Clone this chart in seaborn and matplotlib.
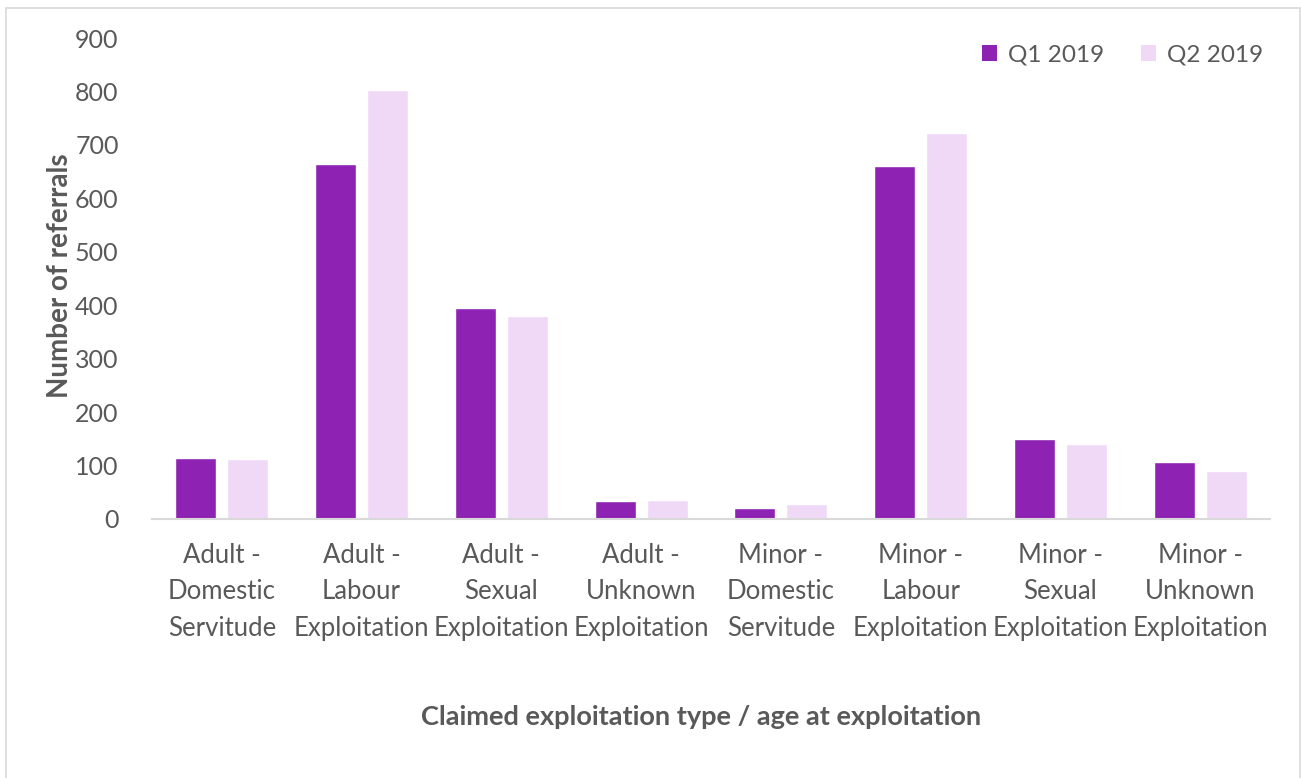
import matplotlib
matplotlib.use("Agg")
import matplotlib.pyplot as plt
import seaborn as sns
import pandas as pd
from matplotlib.patches import Rectangle, Patch

categories = ["Adult -\nDomestic\nServitude", "Adult -\nLabour\nExploitation",
              "Adult -\nSexual\nExploitation", "Adult -\nUnknown\nExploitation",
              "Minor -\nDomestic\nServitude", "Minor -\nLabour\nExploitation",
              "Minor -\nSexual\nExploitation", "Minor -\nUnknown\nExploitation"]
q1_2019 = [114, 664, 395, 34, 21, 660, 150, 107]
q2_2019 = [112, 803, 380, 36, 28, 722, 141, 89]
series_names = ["Q1 2019", "Q2 2019"]
y_ticks = [0, 100, 200, 300, 400, 500, 600, 700, 800, 900]

df = pd.DataFrame({
    "category": categories * 2,
    "value": q1_2019 + q2_2019,
    "series": [series_names[0]] * len(categories) + [series_names[1]] * len(categories),
})

sns.set_theme(style="white")
plt.rcParams['font.family'] = ['Lato', 'DejaVu Sans']
text_color = "#595959"

W, H = 1301, 778
fig = plt.figure(figsize=(W / 100, H / 100), dpi=100)
ax = fig.add_axes([152 / W, 1 - 519 / H, (1270 - 152) / W, (519 - 38) / H])

palette = {"Q1 2019": "#8E22B2", "Q2 2019": "#F0D8F7"}
sns.barplot(data=df, x="category", y="value", hue="series", palette=palette,
            width=0.744, gap=0.21, ax=ax, legend=False, saturation=1)

ax.set_ylim(0, 900)
ax.set_xlim(-0.5, len(categories) - 0.5)
ax.set_yticks(y_ticks)
ax.tick_params(axis='y', labelsize=18, colors=text_color, length=0, pad=24)
ax.tick_params(axis='x', labelsize=18.5, colors=text_color, length=0, pad=17)
for lbl in ax.get_xticklabels():
    lbl.set_linespacing(1.58)
for s in ["top", "right", "left"]:
    ax.spines[s].set_visible(False)
ax.spines["bottom"].set_color("#D9D9D9")
ax.spines["bottom"].set_linewidth(1.5)

ax.set_xlabel("")
ax.set_ylabel("")
fig.text(60 / W, 1 - 276 / H, "Number of referrals", rotation=90, ha="center", va="center",
         fontsize=20, fontweight="bold", color=text_color)
fig.text(701 / W, 1 - 717 / H, "Claimed exploitation type / age at exploitation",
         ha="center", va="center", fontsize=19.5, fontweight="bold", color=text_color)

handles = [Patch(facecolor=palette[n], edgecolor="none", label=n) for n in series_names]
leg = fig.legend(handles=handles, loc="center right", bbox_to_anchor=(1280 / W, 1 - 55 / H),
                 ncol=2, frameon=False, fontsize=17.5, handlelength=0.6, handleheight=0.6,
                 handletextpad=0.45, columnspacing=1.55, labelcolor=text_color,
                 borderpad=0.2)

fig.patches.append(Rectangle((6 / W, -0.01), (1300 - 6) / W, 1 - 8 / H + 0.01,
                             transform=fig.transFigure, fill=False,
                             edgecolor="#D9D9D9", linewidth=1.2))

fig.savefig("out.png", dpi=100)
